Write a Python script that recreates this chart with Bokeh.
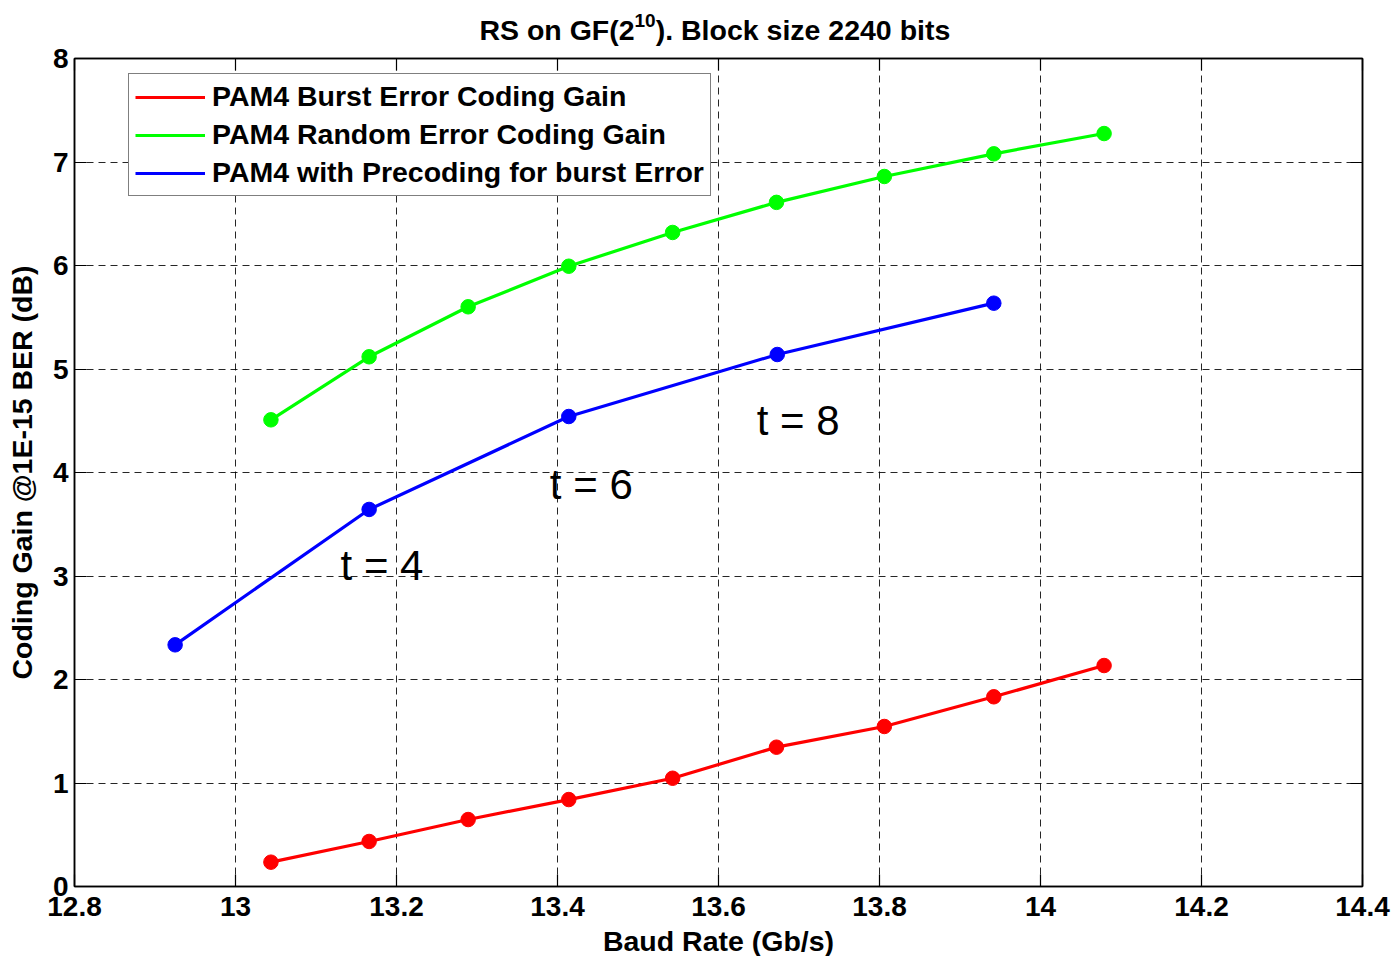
from bokeh.plotting import figure
from bokeh.models import (ColumnDataSource, FixedTicker, Legend, LegendItem,
                          LinearAxis, Label, Range1d, AllLabels)
from bokeh.embed import file_html
from bokeh.resources import INLINE

# ---------------- data ----------------
baud_rate = [13.044, 13.166, 13.289, 13.414, 13.543, 13.672, 13.806, 13.942, 14.079]
burst_gain = [0.235, 0.435, 0.647, 0.840, 1.046, 1.346, 1.546, 1.833, 2.135]
random_gain = [4.509, 5.118, 5.601, 5.993, 6.319, 6.610, 6.860, 7.079, 7.275]
precode_rate = [12.925, 13.166, 13.414, 13.673, 13.942]
precode_gain = [2.335, 3.643, 4.541, 5.140, 5.636]

series_names = ["PAM4 Burst Error Coding Gain",
                "PAM4 Random Error Coding Gain",
                "PAM4 with Precoding for burst Error"]

x_ticks = [12.8, 13.0, 13.2, 13.4, 13.6, 13.8, 14.0, 14.2, 14.4]
x_tick_labels = ["12.8", "13", "13.2", "13.4", "13.6", "13.8", "14", "14.2", "14.4"]
y_ticks = [0, 1, 2, 3, 4, 5, 6, 7, 8]
y_tick_labels = ["0", "1", "2", "3", "4", "5", "6", "7", "8"]

t_labels = ["t = 4", "t = 6", "t = 8"]
t_x = [13.182, 13.442, 13.699]
t_y = [3.10, 3.88, 4.50]

title_parts = ["RS on GF(2", "10", "). Block size 2240 bits"]

FONT = "Liberation Sans"
FS_TICK = "28px"
FS_LABEL = "28.5px"

FRAME_LEFT = 74
FRAME_W = 1288
X0, X1 = 12.8, 14.4


def px_to_x(px):
    return X0 + (px - FRAME_LEFT) * (X1 - X0) / FRAME_W


p = figure(frame_width=FRAME_W, frame_height=828,
           x_range=Range1d(X0, X1), y_range=Range1d(0, 8),
           output_backend="svg", toolbar_location=None,
           min_border_left=FRAME_LEFT, min_border_right=32,
           min_border_top=58, min_border_bottom=70,
           background_fill_color="white", border_fill_color="white")

p.outline_line_color = "black"
p.outline_line_width = 1.5

# axes
for ax in (p.xaxis[0], p.yaxis[0]):
    ax.major_tick_in = 12
    ax.major_tick_out = 0
    ax.minor_tick_line_color = None
    ax.axis_line_color = "black"
    ax.axis_line_width = 1.5
    ax.major_tick_line_color = "black"
    ax.major_tick_line_width = 1.2
    ax.major_label_text_font = FONT
    ax.major_label_text_font_style = "bold"
    ax.major_label_text_font_size = FS_TICK
    ax.major_label_text_color = "black"
    ax.axis_label_text_font = FONT
    ax.axis_label_text_font_style = "bold"
    ax.axis_label_text_font_size = FS_LABEL
    ax.axis_label_text_color = "black"

p.xaxis[0].ticker = FixedTicker(ticks=x_ticks)
p.xaxis[0].major_label_overrides = {t: l for t, l in zip(x_ticks, x_tick_labels)}
p.yaxis[0].ticker = FixedTicker(ticks=y_ticks)
p.yaxis[0].major_label_overrides = {t: l for t, l in zip(y_ticks, y_tick_labels)}
p.xaxis[0].axis_label = "Baud Rate (Gb/s)"
p.yaxis[0].axis_label = "Coding Gain @1E-15 BER (dB)"
p.xaxis[0].major_label_standoff = 10
p.xaxis[0].axis_label_standoff = 6
p.yaxis[0].major_label_standoff = 6
p.yaxis[0].axis_label_standoff = 12

# mirrored ticks on top / right
for loc, tick in (("above", x_ticks), ("right", y_ticks)):
    ax = LinearAxis(ticker=FixedTicker(ticks=tick))
    ax.major_tick_in = 12
    ax.major_tick_out = 0
    ax.minor_tick_line_color = None
    ax.major_label_text_font_size = "0px"
    ax.major_label_text_color = None
    ax.major_label_standoff = 0
    ax.axis_line_color = "black"
    ax.axis_line_width = 1.5
    ax.major_tick_line_color = "black"
    ax.major_tick_line_width = 1.2
    p.add_layout(ax, loc)

# title, built from text pieces placed in the top border (superscript "10")
main_centers = [px_to_x(556.5), px_to_x(802.5)]
sup_center = [px_to_x(644.5)]


def text_axis(centers, texts, size, standoff):
    ax = LinearAxis(ticker=FixedTicker(ticks=centers))
    ax.major_label_overrides = {c: t for c, t in zip(centers, texts)}
    ax.major_label_policy = AllLabels()
    ax.axis_line_color = None
    ax.major_tick_line_color = None
    ax.minor_tick_line_color = None
    ax.major_tick_in = 0
    ax.major_tick_out = 0
    ax.major_label_text_font = FONT
    ax.major_label_text_font_style = "bold"
    ax.major_label_text_font_size = size
    ax.major_label_text_color = "black"
    ax.major_label_standoff = standoff
    return ax


p.add_layout(text_axis(main_centers, [title_parts[0], title_parts[2]],
                       "28.5px", 13), "above")
p.add_layout(text_axis(sup_center, [title_parts[1]], "19px", -16), "above")

# grid
for g in (p.xgrid[0], p.ygrid[0]):
    g.grid_line_color = "black"
    g.grid_line_alpha = 0.85
    g.grid_line_width = 1
    g.grid_line_dash = "7 5"
p.xgrid[0].ticker = FixedTicker(ticks=x_ticks)
p.ygrid[0].ticker = FixedTicker(ticks=y_ticks)

# series
colors = ["#FF0000", "#00FF00", "#0000FF"]
xs_list = [baud_rate, baud_rate, precode_rate]
ys_list = [burst_gain, random_gain, precode_gain]
items = []
for name, xs, ys, c in zip(series_names, xs_list, ys_list, colors):
    src = ColumnDataSource(dict(x=xs, y=ys))
    ln = p.line("x", "y", source=src, line_color=c, line_width=3.2)
    p.scatter("x", "y", source=src, marker="circle", size=14.5,
              fill_color=c, line_color=c)
    items.append(LegendItem(label=name, renderers=[ln]))

legend = Legend(items=items, location=(54, 690))
legend.label_text_font = FONT
legend.label_text_font_style = "bold"
legend.label_text_font_size = "28.5px"
legend.label_text_color = "black"
legend.label_height = 30
legend.glyph_height = 30
legend.glyph_width = 70
legend.label_standoff = 7
legend.spacing = 5
legend.padding = 6
legend.margin = 0
legend.border_line_color = "black"
legend.border_line_width = 1.5
legend.background_fill_color = "white"
legend.background_fill_alpha = 1.0
p.add_layout(legend, "center")

# annotations t = ...
for txt, tx, ty in zip(t_labels, t_x, t_y):
    p.add_layout(Label(x=tx, y=ty, text=txt, text_font=FONT,
                       text_font_size="42px", text_align="center",
                       text_baseline="middle", text_color="black"))

open("out.html", "w").write(file_html(p, INLINE))
